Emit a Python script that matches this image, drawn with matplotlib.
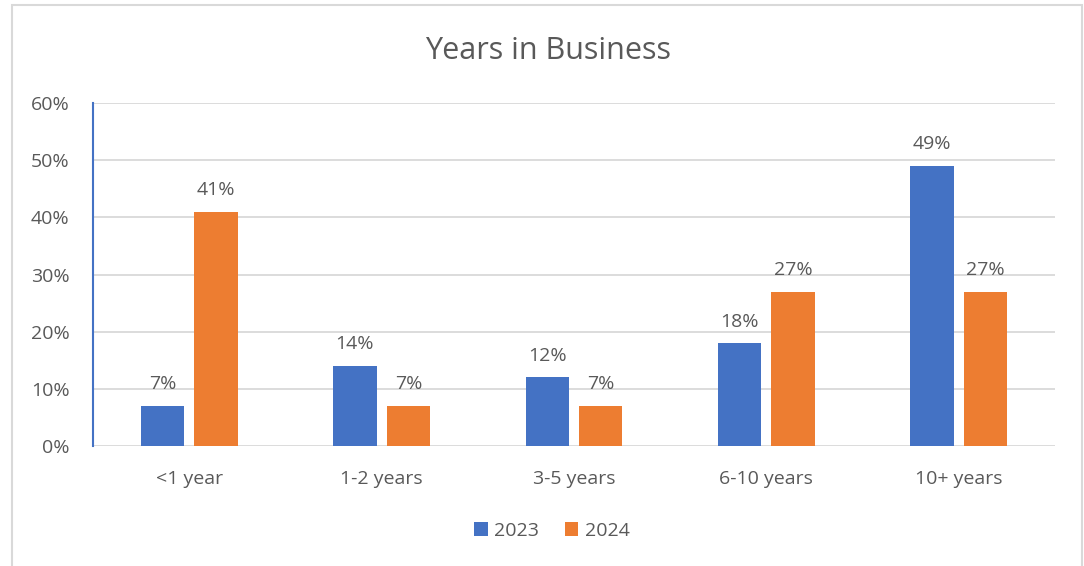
import numpy as np
import matplotlib.pyplot as plt
from matplotlib.patches import Rectangle

categories = ["<1 year", "1-2 years", "3-5 years", "6-10 years", "10+ years"]
values_2023 = [7, 14, 12, 18, 49]
values_2024 = [41, 7, 7, 27, 27]
series_names = ["2023", "2024"]
yticks = [0, 10, 20, 30, 40, 50, 60]

BLUE = "#4472C4"
ORANGE = "#ED7D31"
TEXT = "#595959"


def main():
    plt.rcParams["font.family"] = ["Open Sans", "DejaVu Sans"]
    fig = plt.figure(figsize=(10.84, 5.66), dpi=100)
    W, H = 1084, 566

    # chart frame
    fig.patches.append(Rectangle((12 / W, -0.01), (1082 - 12) / W, (566 - 5) / H + 0.01,
                                 transform=fig.transFigure, fill=False,
                                 edgecolor="#d9d9d9", linewidth=1.5))

    ax = fig.add_axes([93 / W, 1 - 446 / H, (1055 - 93) / W, (446 - 103) / H])
    x = np.arange(len(categories))
    width = 0.225
    offset = 0.139
    b1 = ax.bar(x - offset, values_2023, width, color=BLUE, label=series_names[0], zorder=3)
    b2 = ax.bar(x + offset, values_2024, width, color=ORANGE, label=series_names[1], zorder=3)

    for bars in (b1, b2):
        for rect, v in zip(bars, bars.datavalues):
            ax.annotate(f"{v:.0f}%", (rect.get_x() + rect.get_width() / 2, v),
                        xytext=(0, 9), textcoords="offset points",
                        ha="center", va="bottom", fontsize=14, color=TEXT)

    ax.set_xlim(-0.5, len(categories) - 0.5)
    ax.set_ylim(0, 60)
    ax.set_yticks(yticks)
    ax.set_yticklabels([f"{t}%" for t in yticks])
    ax.set_xticks(x)
    ax.set_xticklabels(categories)
    ax.tick_params(axis="both", length=0, labelsize=14, colors=TEXT)
    ax.tick_params(axis="y", pad=17)
    ax.tick_params(axis="x", pad=17)
    ax.grid(axis="y", color="#d9d9d9", linewidth=1.3, zorder=0)
    for s in ("top", "right", "bottom"):
        ax.spines[s].set_visible(False)
    ax.spines["left"].set_color(BLUE)
    ax.spines["left"].set_linewidth(1.5)

    fig.text(548 / W, 1 - 51 / H, "Years in Business", ha="center", va="center",
             fontsize=22, color=TEXT)

    fig.legend(loc="center", bbox_to_anchor=(552 / W, 1 - 531 / H), ncol=2,
               frameon=False, fontsize=14, labelcolor=TEXT,
               handlelength=0.7, handleheight=0.7, handletextpad=0.35,
               columnspacing=1.3)

    fig.savefig("out.png", dpi=100)


if __name__ == '__main__':
    main()
